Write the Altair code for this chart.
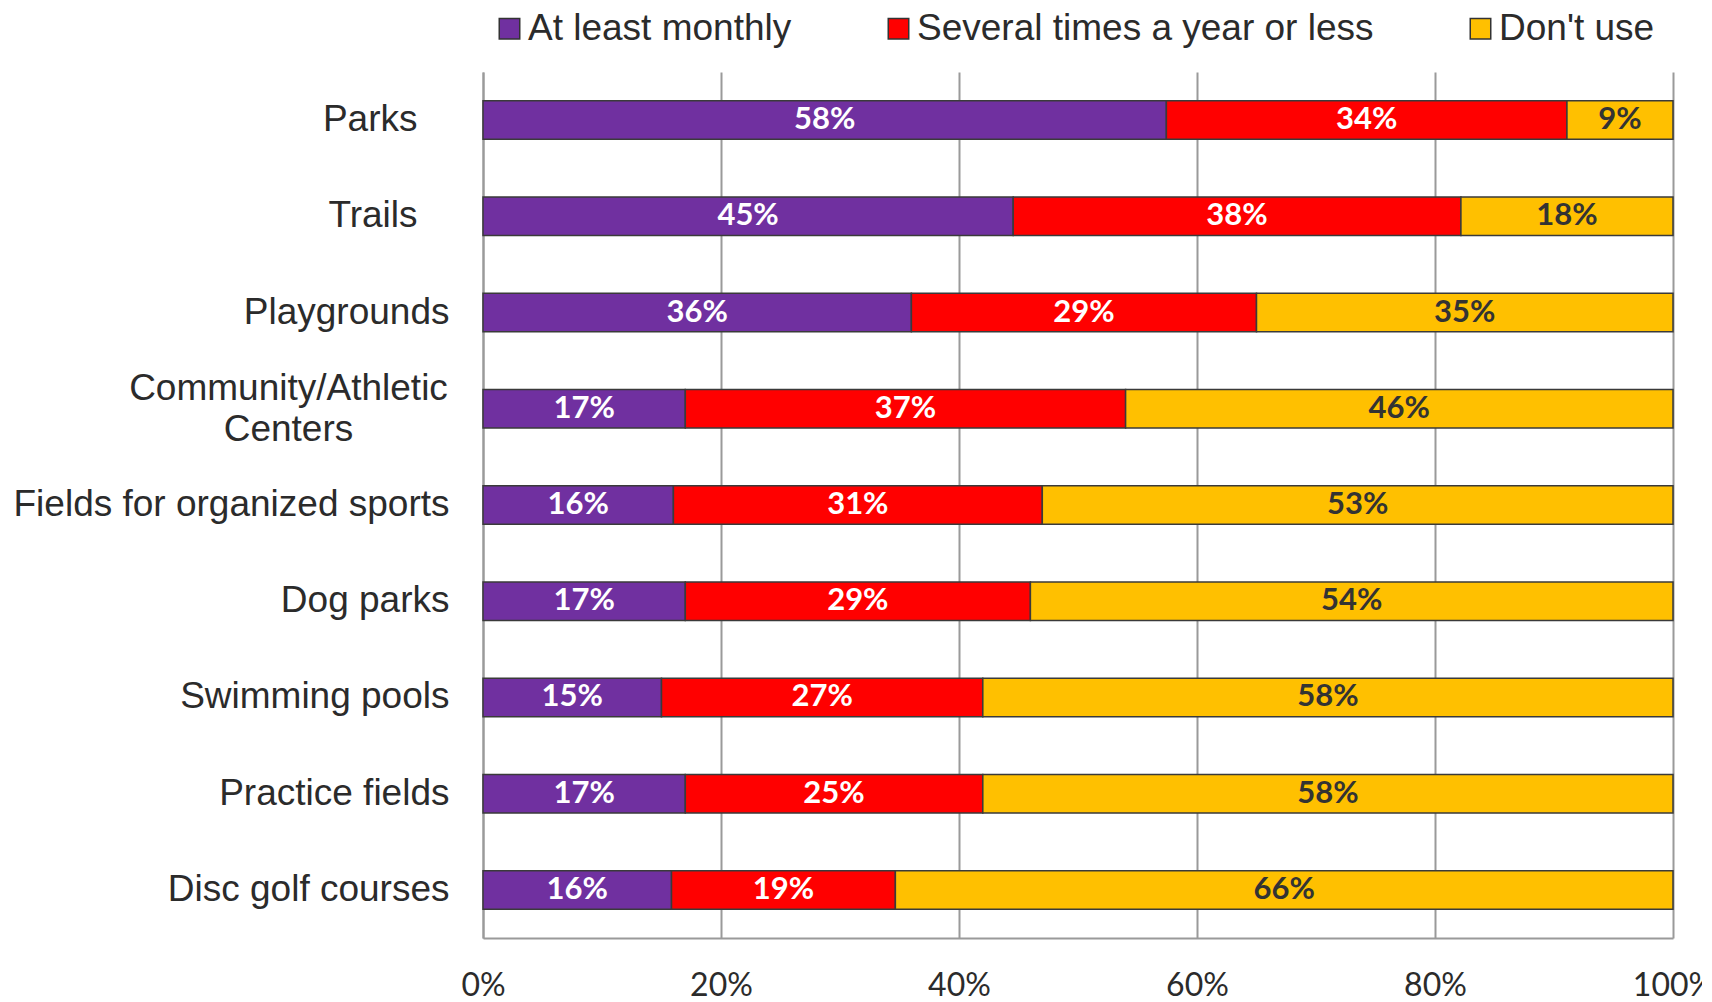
import altair as alt
import pandas as pd

categories = ["Parks", "Trails", "Playgrounds", "Community/Athletic Centers",
              "Fields for organized sports", "Dog parks", "Swimming pools",
              "Practice fields", "Disc golf courses"]
series = ["At least monthly", "Several times a year or less", "Don't use"]
monthly = [58, 45, 36, 17, 16, 17, 15, 17, 16]
yearly = [34, 38, 29, 37, 31, 29, 27, 25, 19]
dont_use = [9, 18, 35, 46, 53, 54, 58, 58, 66]
colors = ["#7030A0", "#FF0000", "#FFC000"]
x_ticks = [0, 0.2, 0.4, 0.6, 0.8, 1.0]

rows = []
for i, c in enumerate(categories):
    for j, vals in enumerate([monthly, yearly, dont_use]):
        rows.append({"category": c, "series": series[j], "order": j, "value": vals[i]})
df = pd.DataFrame(rows)

base = (
    alt.Chart(df)
    .transform_joinaggregate(total="sum(value)", groupby=["category"])
    .transform_window(cum="sum(value)", sort=[alt.SortField("order")],
                      groupby=["category"], frame=[None, 0])
    .transform_calculate(
        x_end="datum.cum / datum.total",
        x_start="(datum.cum - datum.value) / datum.total",
        x_mid="(datum.cum - datum.value / 2) / datum.total",
        label="datum.value + '%'",
    )
)

is_comm = "datum.value == 'Community/Athletic Centers'"
is_short = "datum.value == 'Parks' || datum.value == 'Trails'"
y_enc = alt.Y(
    "category:N", sort=categories, title=None,
    scale=alt.Scale(paddingInner=0.6, paddingOuter=0.3),
    axis=alt.Axis(
        ticks=False, tickSize=0,
        labelPadding={"condition": [{"test": is_comm, "value": 195},
                                    {"test": is_short, "value": 66}],
                      "value": 34},
        labelAlign={"condition": {"test": is_comm, "value": "center"}, "value": "right"},
        labelOffset={"condition": {"test": is_comm, "value": -20}, "value": 0},
        labelFont="Liberation Sans", labelFontSize=37, labelColor="#2b2b2b",
        labelLimit=0, labelLineHeight=41,
        labelExpr=is_comm + " ? ['Community/Athletic', 'Centers'] : datum.value",
        domainColor="#9a9a9a", domainWidth=2,
    ),
)

bars = base.mark_bar(stroke="#3a3a3a", strokeWidth=1.5).encode(
    x=alt.X("x_start:Q", title=None,
            scale=alt.Scale(domain=[0, 1], nice=False, zero=True),
            axis=alt.Axis(values=x_ticks, format=".0%", ticks=False, tickSize=0,
                          labelPadding=32, labelFont="Lato", labelFontSize=32,
                          labelColor="#2b2b2b", labelBaseline="top", labelFlush=False,
                          grid=True, gridColor="#9a9a9a", gridWidth=2,
                          domainColor="#9a9a9a", domainWidth=2)),
    x2="x_end:Q",
    y=y_enc,
    color=alt.Color("series:N", scale=alt.Scale(domain=series, range=colors),
                    legend=alt.Legend(orient="none", legendX=8, legendY=-62,
                                      direction="horizontal", title=None,
                                      symbolType="square", symbolSize=420,
                                      symbolStrokeColor="#333333", symbolStrokeWidth=1.5,
                                      labelFont="Liberation Sans", labelFontSize=37,
                                      labelColor="#2b2b2b", labelOffset=0,
                                      columnPadding=88, padding=0, labelLimit=0)),
    order=alt.Order("order:Q"),
)

text = base.mark_text(font="Lato", fontWeight="bold", fontSize=31, baseline="middle").encode(
    x=alt.X("x_mid:Q"),
    y=y_enc,
    text="label:N",
    color=alt.condition("datum.series == \"Don't use\"", alt.value("#333333"), alt.value("#FFFFFF")),
)

chart = (
    alt.layer(bars, text)
    .properties(width=1190, height=866,
                autosize=alt.AutoSizeParams(type="none"),
                padding={"left": 475, "top": 64, "right": 29, "bottom": 64},
                background="white")
    .configure_view(stroke=None)
)

chart.save("out.html", embed_options={"renderer": "svg", "actions": False})
